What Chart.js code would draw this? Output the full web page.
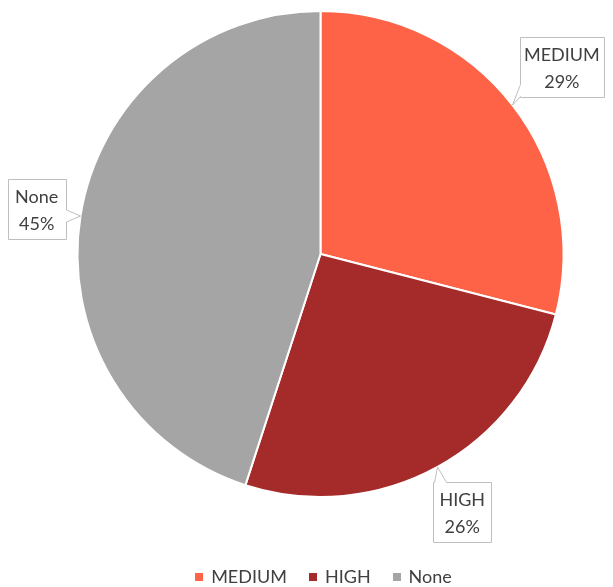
<!DOCTYPE html>
<html>
<head>
<meta charset="utf-8">
<script src="https://cdn.jsdelivr.net/npm/chart.js@4"></script>
<style>
  html, body { margin: 0; padding: 0; background: #fff; }
</style>
</head>
<body>
<canvas id="pieChart" width="613" height="587"></canvas>
<script>
/* =====================================================
   DATA
===================================================== */
const labels = ["MEDIUM", "HIGH", "None"];
const shares = [29, 26, 45];
const colors = ["#FF6347", "#A52A2A", "#A5A5A5"];

const FONT = "18px Lato, 'Open Sans', sans-serif";
const TEXT_COLOR = "#404040";

/* =====================================================
   CALLOUT BOX WITH POINTER
===================================================== */
function drawCallout(ctx, box, tx, ty) {
  const ox = Math.max(box.l - tx, tx - box.r, 0);
  const oy = Math.max(box.t - ty, ty - box.b, 0);
  const half = 6;
  let side;
  if (ox >= oy) side = tx < box.l ? "left" : "right";
  else side = ty < box.t ? "top" : "bottom";

  const clamp = (v, a, b) => Math.min(Math.max(v, a), b);
  const pts = [[box.l, box.t]];

  if (side === "top") {
    const c = clamp(tx, box.l + half + 1, box.r - half - 1);
    pts.push([c - half, box.t], [tx, ty], [c + half, box.t]);
  }
  pts.push([box.r, box.t]);
  if (side === "right") {
    const c = clamp(ty, box.t + half + 1, box.b - half - 1);
    pts.push([box.r, c - half], [tx, ty], [box.r, c + half]);
  }
  pts.push([box.r, box.b]);
  if (side === "bottom") {
    const c = clamp(tx, box.l + half + 1, box.r - half - 1);
    pts.push([c + half, box.b], [tx, ty], [c - half, box.b]);
  }
  pts.push([box.l, box.b]);
  if (side === "left") {
    const c = clamp(ty, box.t + half + 1, box.b - half - 1);
    pts.push([box.l, c + half], [tx, ty], [box.l, c - half]);
  }

  ctx.beginPath();
  pts.forEach((p, i) => (i ? ctx.lineTo(p[0], p[1]) : ctx.moveTo(p[0], p[1])));
  ctx.closePath();
  ctx.fillStyle = "#fff";
  ctx.fill();
  ctx.strokeStyle = "#BFBFBF";
  ctx.lineWidth = 1;
  ctx.stroke();
}

const calloutPlugin = {
  id: "callouts",
  afterDatasetsDraw(chart) {
    const ctx = chart.ctx;
    const meta = chart.getDatasetMeta(0);
    ctx.save();
    ctx.font = FONT;
    meta.data.forEach((arc, i) => {
      const p = arc.getProps(["x", "y", "startAngle", "endAngle", "outerRadius"], true);
      const mid = (p.startAngle + p.endAngle) / 2;
      const dx = Math.cos(mid), dy = Math.sin(mid);
      const tipX = p.x + dx * p.outerRadius;
      const tipY = p.y + dy * p.outerRadius;

      const lines = [labels[i], shares[i] + "%"];
      const w = Math.max(Math.max(...lines.map(t => ctx.measureText(t).width)) + 8, 58);
      const h = 60;
      // push the box out until its nearest side clears the rim
      const reach = Math.abs(dx) * w / 2 + Math.abs(dy) * h / 2;
      const dist = p.outerRadius + 11 + reach;
      const cx = p.x + dx * dist;
      const cy = p.y + dy * dist;

      const box = {
        l: Math.round(cx - w / 2) + 0.5,
        t: Math.round(cy - h / 2) + 0.5,
        r: Math.round(cx + w / 2) + 0.5,
        b: Math.round(cy + h / 2) + 0.5
      };
      drawCallout(ctx, box, tipX, tipY);

      ctx.fillStyle = TEXT_COLOR;
      ctx.textAlign = "center";
      ctx.textBaseline = "middle";
      ctx.fillText(lines[0], cx, cy - 12);
      ctx.fillText(lines[1], cx, cy + 15);
    });
    ctx.restore();
  }
};

/* =====================================================
   LEGEND (BOTTOM ROW)
===================================================== */
const legendPlugin = {
  id: "bottomLegend",
  afterDraw(chart) {
    const ctx = chart.ctx;
    const box = 8, gap = 8, spacing = 22;
    const y = 577;
    ctx.save();
    ctx.font = FONT;
    const widths = labels.map(t => ctx.measureText(t).width);
    const total = widths.reduce((s, w) => s + box + gap + w, 0) + spacing * (labels.length - 1);
    let x = 323.5 - total / 2;
    ctx.textBaseline = "middle";
    ctx.textAlign = "left";
    labels.forEach((t, i) => {
      ctx.fillStyle = colors[i];
      ctx.fillRect(Math.round(x), y - box / 2, box, box);
      ctx.fillStyle = TEXT_COLOR;
      ctx.fillText(t, x + box + gap, y);
      x += box + gap + widths[i] + spacing;
    });
    ctx.restore();
  }
};

/* =====================================================
   PIE CHART
===================================================== */
new Chart(document.getElementById("pieChart"), {
  type: "pie",
  data: {
    labels: labels,
    datasets: [
      {
        data: shares,
        backgroundColor: colors,
        borderColor: "#ffffff",
        borderWidth: 2,
        radius: 243
      }
    ]
  },
  options: {
    responsive: false,
    animation: false,
    layout: {
      padding: { left: 28, top: 0, right: 0, bottom: 79 }
    },
    plugins: {
      legend: { display: false },
      tooltip: { enabled: false }
    }
  },
  plugins: [calloutPlugin, legendPlugin]
});
</script>
</body>
</html>
